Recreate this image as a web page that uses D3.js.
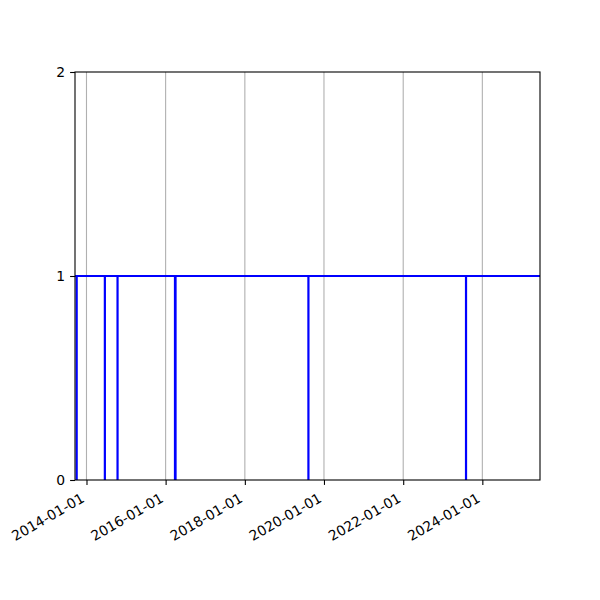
<!DOCTYPE html>
<html>
<head>
<meta charset="utf-8">
<script src="https://d3js.org/d3.v7.min.js"></script>
<style>
  body { margin: 0; background: #fff; }
  text { font-family: "DejaVu Sans", sans-serif; }
</style>
</head>
<body>
<script>
  // status series: 1 most of the time, short drops to 0
  var dates = ["2013-09-17", "2013-10-02", "2013-10-03", "2014-06-19", "2014-06-20",
               "2014-10-14", "2014-10-15", "2016-03-27", "2016-04-02", "2019-08-10",
               "2019-08-11", "2023-08-03", "2023-08-04", "2025-06-16"];
  var values = [1, 0, 1, 0, 1, 0, 1, 0, 1, 0, 1, 0, 1, 1];
  var xTicks = ["2014-01-01", "2016-01-01", "2018-01-01", "2020-01-01", "2022-01-01", "2024-01-01"];
  var yTicks = [0, 1, 2];

  var width = 600, height = 600;
  // plot box (note: "top" is reserved on window, so use other names)
  var mLeft = 75, mRight = 540, mTop = 72, mBottom = 480;
  var parse = d3.timeParse("%Y-%m-%d");

  var data = dates.map(function (d, i) { return { date: parse(d), value: values[i] }; });

  var svg = d3.select("body").append("svg")
      .attr("width", width)
      .attr("height", height);

  var x = d3.scaleTime()
      .domain([parse("2013-09-17"), parse("2025-06-16")])
      .range([mLeft, mRight]);
  var y = d3.scaleLinear()
      .domain([0, 2])
      .range([mBottom, mTop]);

  // vertical grid lines
  svg.append("g").selectAll("line")
      .data(xTicks)
      .enter().append("line")
      .attr("x1", function (d) { return x(parse(d)); })
      .attr("x2", function (d) { return x(parse(d)); })
      .attr("y1", mTop)
      .attr("y2", mBottom)
      .attr("stroke", "#b0b0b0")
      .attr("stroke-width", 1.1);

  // the step line
  svg.append("clipPath").attr("id", "clip")
    .append("rect").attr("x", mLeft).attr("y", mTop)
      .attr("width", mRight - mLeft).attr("height", mBottom - mTop);

  var line = d3.line()
      .x(function (d) { return x(d.date); })
      .y(function (d) { return y(d.value); })
      .curve(d3.curveStepAfter);

  svg.append("path")
      .datum(data)
      .attr("clip-path", "url(#clip)")
      .attr("fill", "none")
      .attr("stroke", "#0000ff")
      .attr("stroke-width", 2.1)
      .attr("d", line);

  // axes
  var xAxis = d3.axisBottom(x)
      .tickValues(xTicks.map(parse))
      .tickFormat(d3.timeFormat("%Y-%m-%d"))
      .tickSize(4.9)
      .tickPadding(4.9);
  var gx = svg.append("g")
      .attr("transform", "translate(0," + mBottom + ")")
      .call(xAxis);
  gx.select(".domain").remove();
  gx.selectAll(".tick line").attr("stroke", "#000").attr("stroke-width", 1.1);
  gx.selectAll(".tick text")
      .attr("font-size", "13.9px")
      .attr("fill", "#000")
      .attr("text-anchor", "end")
      .attr("x", 0).attr("y", 0).attr("dy", null)
      .attr("transform", "translate(-1.7,21) rotate(-30)");

  var yAxis = d3.axisLeft(y)
      .tickValues(yTicks)
      .tickFormat(d3.format("d"))
      .tickSize(4.9)
      .tickPadding(4.9);
  var gy = svg.append("g")
      .attr("transform", "translate(" + mLeft + ",0)")
      .call(yAxis);
  gy.select(".domain").remove();
  gy.selectAll(".tick line").attr("stroke", "#000").attr("stroke-width", 1.1);
  gy.selectAll(".tick text").attr("font-size", "13.9px").attr("fill", "#000");

  // frame
  svg.append("rect")
      .attr("x", mLeft).attr("y", mTop)
      .attr("width", mRight - mLeft).attr("height", mBottom - mTop)
      .attr("fill", "none")
      .attr("stroke", "#000")
      .attr("stroke-width", 1.1);
</script>
</body>
</html>
